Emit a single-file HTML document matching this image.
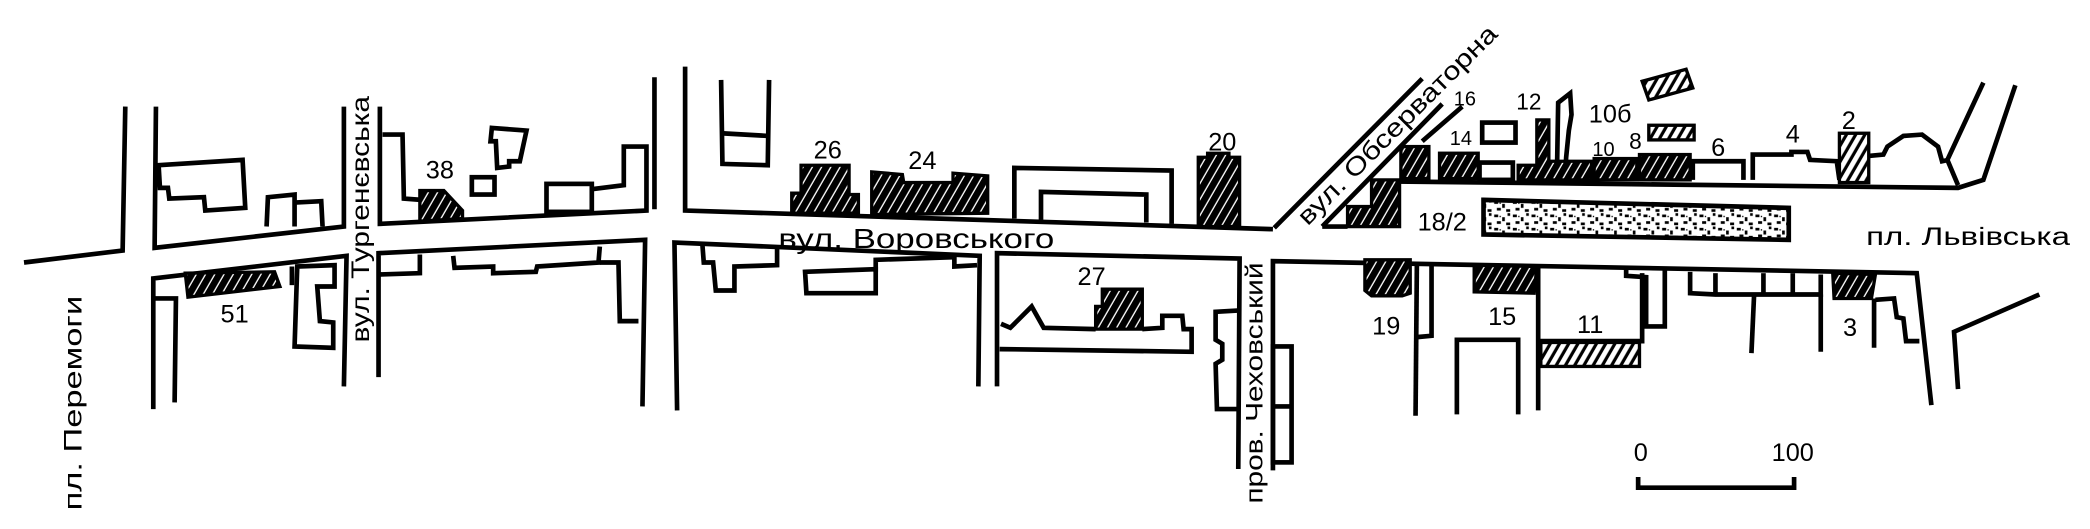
<!DOCTYPE html>
<html><head><meta charset="utf-8"><style>
html,body{margin:0;padding:0;background:#fff;width:2090px;height:529px;overflow:hidden}
svg{display:block}
text{font-family:"Liberation Sans",sans-serif;fill:#000}
</style></head><body>
<svg width="2090" height="529" viewBox="0 0 1568 397" preserveAspectRatio="none" xmlns="http://www.w3.org/2000/svg">
<defs>
<pattern id="dk" width="6" height="6" patternUnits="userSpaceOnUse" patternTransform="rotate(30)">
<rect width="6" height="6" fill="#000"/><rect x="2" y="0" width="1" height="6" fill="#fff"/></pattern>
<pattern id="lt" width="6" height="6" patternUnits="userSpaceOnUse" patternTransform="rotate(30)">
<rect width="6" height="6" fill="#fff"/><rect x="1" y="0" width="2.4" height="6" fill="#000"/></pattern>
<pattern id="nz" width="14" height="10" patternUnits="userSpaceOnUse">
<rect width="14" height="10" fill="#fff"/>
<rect x="1" y="1" width="3" height="2" fill="#000"/><rect x="7" y="3" width="2" height="3" fill="#000"/>
<rect x="3" y="6" width="3" height="2" fill="#000"/><rect x="10" y="7" width="3" height="2" fill="#000"/>
<rect x="11" y="0" width="2" height="2" fill="#000"/><rect x="5" y="2" width="1" height="1" fill="#000"/>
</pattern>
</defs>
<g fill="none" stroke="#000" stroke-width="3.5" stroke-linejoin="miter">
<polyline points="18,197 92,188 94,80"/>
<polyline points="117,80 116,186 258,170 258,80"/>
<polygon points="119,124 182,120 184,156 154,158 153,148 127,149 126,141 120,141"/>
<polyline points="200,170 201,148 221,146 221,170"/>
<polyline points="221,152 241,151 242,170"/>
<polyline points="285,80 285,168 485,158 485,110 468,110 468,139 444,142"/>
<polyline points="287,101 302,101 303,149 316,150"/>
<polygon points="369,96 395,98 390,121 382,121 382,125 373,126 372,106 368,106"/>
<rect x="354" y="133" width="17" height="13"/>
<rect x="410" y="138" width="34" height="21"/>
<line x1="491" y1="58" x2="491" y2="157"/>
<polyline points="115,307 115,209 260,192 258,290"/>
<polyline points="116,224 132,224 131,302"/>
<line x1="219" y1="200" x2="219" y2="214"/>
<polygon points="223,200 251,199 251,215 238,215 240,241 250,242 250,261 221,260"/>
<polyline points="284,283 284,190 484,180 482,305"/>
<polyline points="284,206 315,205 315,191"/>
<polyline points="340,192 341,201 370,200 370,205 402,204 403,200 449,197 450,185"/>
<polyline points="450,197 464,197 465,241 479,241"/>
<polyline points="514,50 514,158 955,172"/>
<polyline points="541,60 542,123 576,124 577,60"/>
<line x1="541" y1="100" x2="576" y2="102"/>
<polyline points="761,164 761,126 879,128 879,168"/>
<polyline points="781,165 781,144 860,146 860,167"/>
<polyline points="508,308 506,182 735,192 734,290"/>
<polyline points="527,184 528,197 535,197 537,218 551,218 551,200 583,199 583,184"/>
<polygon points="604,204 657,202 657,220 605,220"/>
<polyline points="657,204 657,195 716,193 716,200 733,199"/>
<polyline points="748,290 748,190 930,194 929,352"/>
<polyline points="751,243 758,246 774,230 783,246 822,247"/>
<polyline points="857,247 872,246 872,237 887,237 888,247 894,247 894,264 750,262"/>
<polyline points="930,233 912,234 912,255 917,258 917,270 912,273 913,307 928,307"/>
<polyline points="955,353 955,196 1438,205 1449,304"/>
<rect x="955" y="260" width="14" height="87"/>
<line x1="955" y1="305" x2="969" y2="305"/>
<line x1="956" y1="171" x2="1067" y2="59"/>
<line x1="992" y1="170" x2="1082" y2="78"/>
<line x1="1067" y1="106" x2="1097" y2="80"/>
<line x1="992" y1="170" x2="1011" y2="170"/>
<polyline points="1029,136 1469,141 1488,135 1512,64"/>
<polyline points="1488,62 1461,120 1469,139"/>
<polyline points="1402,117 1413,116 1416,110 1428,102 1442,101 1454,110 1457,121 1462,120"/>
<rect x="1112" y="92" width="25" height="15"/>
<rect x="1110" y="122" width="25" height="13"/>
<polyline points="1168,135 1169,77 1178,70 1179,86 1177,98 1175,118 1174,135"/>
<polyline points="1270,135 1270,121 1308,121 1308,135"/>
<polyline points="1315,135 1315,116 1344,116 1344,114 1356,114 1358,120 1378,121 1380,135"/>
<polyline points="1063,197 1062,312"/>
<polyline points="1074,197 1074,252 1063,253"/>
<polyline points="1093,311 1093,255 1139,255 1139,311"/>
<line x1="1154" y1="200" x2="1154" y2="308"/>
<polyline points="1232,205 1232,256 1154,256"/>
<polyline points="1220,200 1220,207 1235,208 1235,245 1249,245 1249,201"/>
<polyline points="1268,204 1268,220 1287,221 1366,221 1366,206"/>
<line x1="1287" y1="205" x2="1287" y2="221"/>
<line x1="1323" y1="205" x2="1323" y2="221"/>
<line x1="1345" y1="205" x2="1345" y2="221"/>
<line x1="1316" y1="221" x2="1314" y2="265"/>
<line x1="1366" y1="221" x2="1366" y2="264"/>
<line x1="1406" y1="224" x2="1406" y2="261"/>
<polyline points="1407,225 1421,224 1423,238 1428,239 1430,256 1440,256"/>
<polyline points="1530,221 1466,249 1469,292"/>
<polyline points="1229,358 1229,366 1346,366 1346,358"/>
</g>
<g stroke="#000" stroke-width="2.5">
<polygon fill="url(#dk)" points="139,205 206,204 210,215 141,223"/>
<polygon fill="url(#dk)" points="315,143 333,143 347,158 347,164 315,166"/>
<polygon fill="url(#dk)" points="601,124 637,124 637,146 644,146 644,160 594,160 594,145 601,145"/>
<polygon fill="url(#dk)" points="654,129 677,131 678,137 715,137 715,130 741,132 741,160 654,161"/>
<polygon fill="url(#dk)" points="899,118 906,118 906,115 922,115 922,118 930,118 930,170 899,170"/>
<polygon fill="url(#dk)" points="827,217 857,217 857,247 822,247 822,230 827,230"/>
<polygon fill="url(#dk)" points="1029,135 1050,135 1050,170 1011,170 1011,155 1029,155"/>
<rect fill="url(#dk)" x="1051" y="110" width="21" height="24"/>
<rect fill="url(#dk)" x="1080" y="115" width="29" height="19"/>
<polygon fill="url(#dk)" points="1139,124 1153,124 1153,90 1162,90 1162,121 1194,121 1194,135 1139,135"/>
<rect fill="url(#dk)" x="1196" y="119" width="32" height="16"/>
<rect fill="url(#dk)" x="1230" y="116" width="38" height="19"/>
<rect fill="url(#lt)" x="1380" y="100" width="22" height="37"/>
<polygon fill="url(#lt)" points="1232,61 1265,52 1270,66 1237,75"/>
<rect fill="url(#lt)" x="1237" y="94" width="34" height="11"/>
<polygon fill="url(#dk)" points="1024,195 1058,195 1058,220 1052,222 1029,222 1024,218"/>
<polygon fill="url(#dk)" points="1106,199 1153,200 1151,220 1106,219"/>
<rect fill="url(#lt)" x="1156" y="257" width="74" height="18"/>
<polygon fill="url(#dk)" points="1375,205 1407,206 1404,224 1376,224"/>
<polygon fill="url(#nz)" stroke-width="3.5" points="1113,150 1342,156 1342,180 1113,176"/>
</g>
<g font-size="19">
<text x="330" y="134" text-anchor="middle">38</text>
<text x="176" y="242" text-anchor="middle">51</text>
<text x="621" y="119" text-anchor="middle">26</text>
<text x="692" y="127" text-anchor="middle">24</text>
<text x="917" y="113" text-anchor="middle">20</text>
<text x="819" y="214" text-anchor="middle">27</text>
<text x="1040" y="251" text-anchor="middle">19</text>
<text x="1127" y="244" text-anchor="middle">15</text>
<text x="1193" y="250" text-anchor="middle">11</text>
<text x="1388" y="252" text-anchor="middle">3</text>
<text x="1082" y="173" text-anchor="middle">18/2</text>
<text x="1099" y="79" text-anchor="middle" font-size="15">16</text>
<text x="1096" y="109" text-anchor="middle" font-size="15">14</text>
<text x="1147" y="82" text-anchor="middle" font-size="17">12</text>
<text x="1208" y="92" text-anchor="middle">10б</text>
<text x="1203" y="117" text-anchor="middle" font-size="15">10</text>
<text x="1227" y="112" text-anchor="middle" font-size="17">8</text>
<text x="1289" y="117" text-anchor="middle">6</text>
<text x="1345" y="107" text-anchor="middle">4</text>
<text x="1387" y="97" text-anchor="middle">2</text>
<text x="1231" y="346" text-anchor="middle">0</text>
<text x="1345" y="346" text-anchor="middle">100</text>
</g>
<g font-size="19">
<text x="584" y="186" textLength="207" lengthAdjust="spacingAndGlyphs" font-size="21">вул. Воровського</text>
<text x="1400" y="184" textLength="153" lengthAdjust="spacingAndGlyphs">пл. Львівська</text>
<text transform="translate(277,257) rotate(-90)" textLength="185" lengthAdjust="spacingAndGlyphs">вул. Тургенєвська</text>
<text transform="translate(61,383) rotate(-90)" textLength="161" lengthAdjust="spacingAndGlyphs">пл. Перемоги</text>
<text transform="translate(947,378) rotate(-90)" textLength="181" lengthAdjust="spacingAndGlyphs" font-size="18">пров. Чеховський</text>
<text transform="translate(981,170) rotate(-45)" textLength="203" lengthAdjust="spacingAndGlyphs">вул. Обсерваторна</text>
</g>
</svg>
</body></html>
